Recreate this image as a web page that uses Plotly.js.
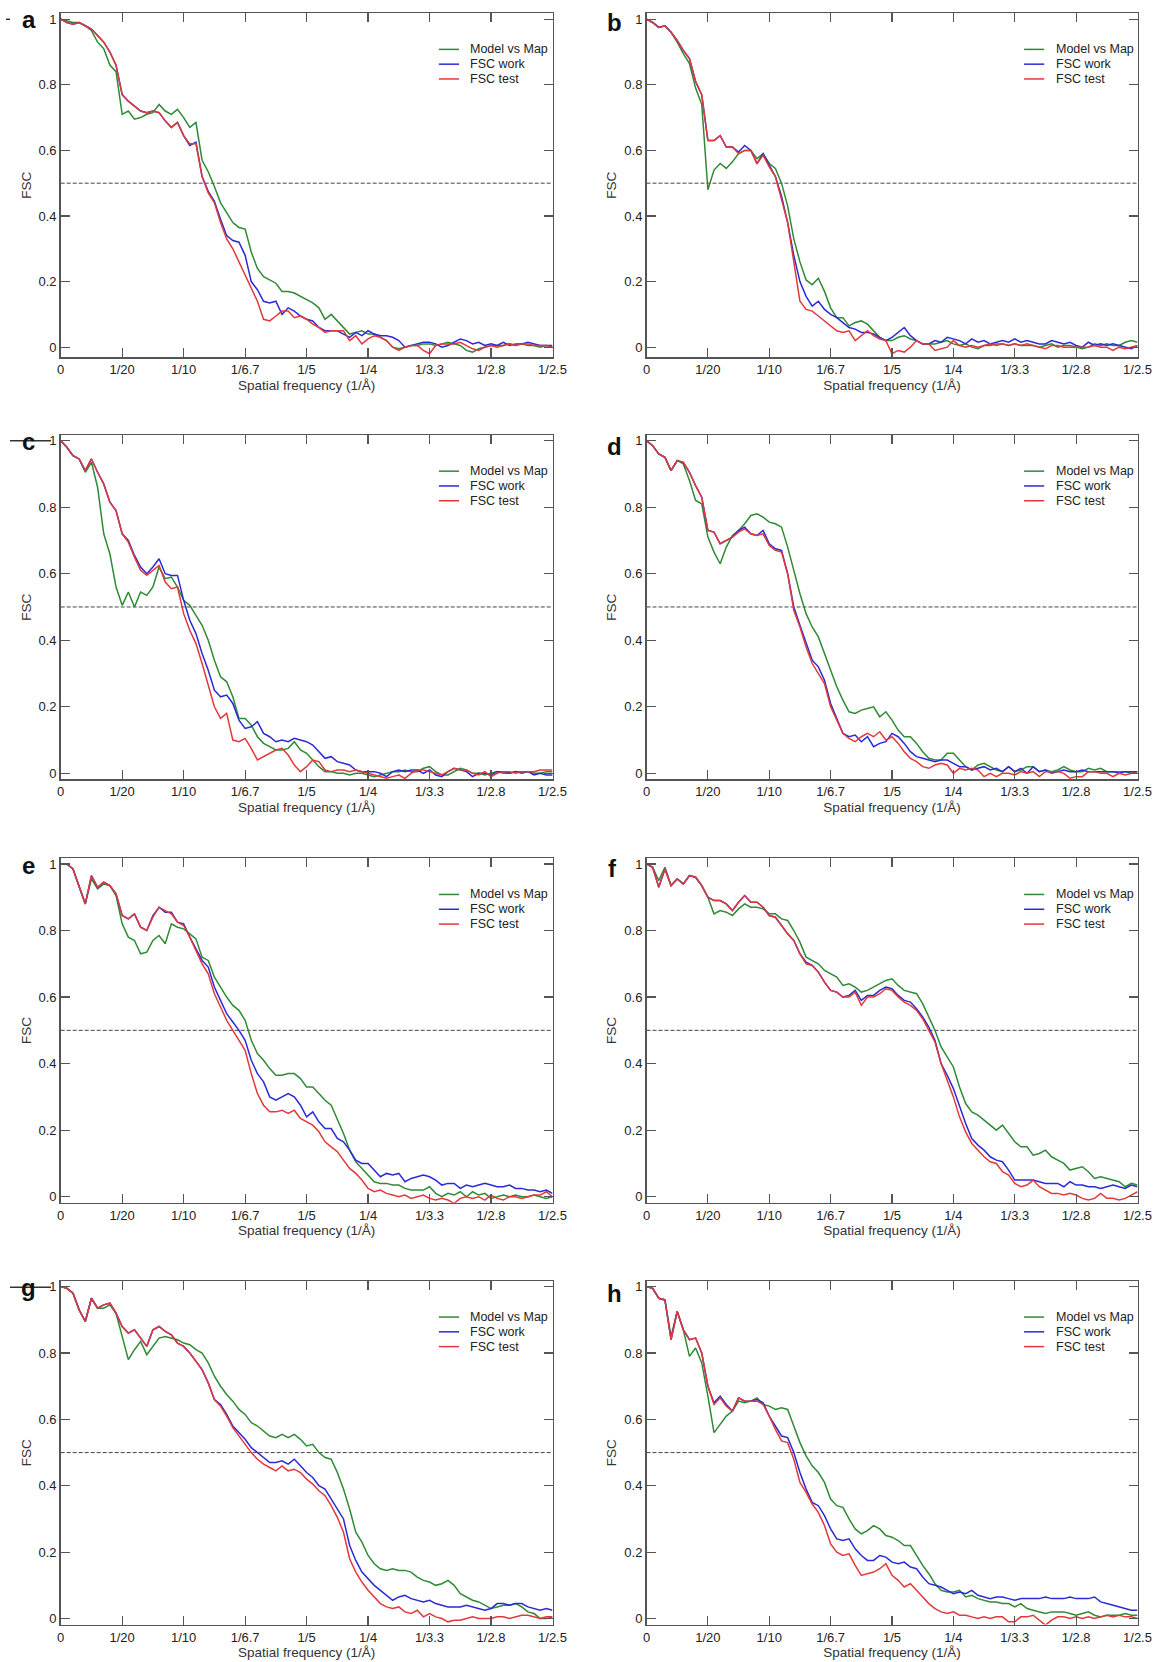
<!DOCTYPE html>
<html>
<head>
<meta charset="utf-8">
<script src="https://cdn.plot.ly/plotly-3.0.1.min.js"></script>
<style>
html,body{margin:0;padding:0;background:#ffffff;}
#chart{width:1158px;height:1662px;}
</style>
</head>
<body>
<div id="chart"></div>
<script>
// ---------- shared axes ----------
const freq = [0,0.005,0.01,0.015,0.02,0.025,0.03,0.035,0.04,0.045,
  0.05,0.055,0.06,0.065,0.07,0.075,0.08,0.085,0.09,0.095,
  0.1,0.105,0.11,0.115,0.12,0.125,0.13,0.135,0.14,0.145,
  0.15,0.155,0.16,0.165,0.17,0.175,0.18,0.185,0.19,0.195,
  0.2,0.205,0.21,0.215,0.22,0.225,0.23,0.235,0.24,0.245,
  0.25,0.255,0.26,0.265,0.27,0.275,0.28,0.285,0.29,0.295,
  0.3,0.305,0.31,0.315,0.32,0.325,0.33,0.335,0.34,0.345,
  0.35,0.355,0.36,0.365,0.37,0.375,0.38,0.385,0.39,0.395,0.4];
const freqTickVals = [0,0.05,0.1,0.15,0.2,0.25,0.3,0.35,0.4];
const freqTickText = ['0','1/20','1/10','1/6.7','1/5','1/4','1/3.3','1/2.8','1/2.5'];
const fscTickVals = [0,0.2,0.4,0.6,0.8,1];
const fscTickText = ['0','0.2','0.4','0.6','0.8','1'];
const seriesNames = ['Model vs Map','FSC work','FSC test'];
const panelLabels = ['a','b','c','d','e','f','g','h'];
const threshold = 0.5;
const xTitle = 'Spatial frequency (1/Å)';
const yTitle = 'FSC';

// ---------- panel a ----------
const aModel = [1.0,0.995,0.99,0.99,0.98,0.965,0.93,0.91,0.86,0.84,
  0.71,0.72,0.695,0.70,0.71,0.715,0.74,0.72,0.71,0.725,
  0.70,0.67,0.685,0.57,0.535,0.49,0.44,0.41,0.38,0.365,
  0.36,0.29,0.24,0.215,0.205,0.195,0.17,0.17,0.165,0.155,
  0.145,0.135,0.12,0.085,0.10,0.08,0.06,0.04,0.045,0.05,
  0.04,0.04,0.03,0.02,0.0,-0.005,0.0,0.005,0.005,0.01,
  0.01,0.005,0.01,0.015,0.01,0.005,-0.01,-0.015,-0.005,0.0,
  0.005,0.005,0.005,0.01,0.005,0.01,0.005,0.005,0.0,0.005,0.0];
const aWork = [1.0,0.99,0.985,0.99,0.98,0.97,0.95,0.93,0.90,0.86,
  0.77,0.75,0.735,0.72,0.715,0.72,0.715,0.69,0.67,0.685,
  0.645,0.615,0.625,0.52,0.475,0.445,0.39,0.34,0.325,0.32,
  0.28,0.20,0.175,0.14,0.135,0.14,0.10,0.12,0.11,0.095,
  0.085,0.08,0.06,0.05,0.05,0.05,0.04,0.03,0.045,0.035,
  0.05,0.04,0.035,0.035,0.03,0.02,0.0,0.005,0.01,0.015,
  0.015,0.01,0.0,0.005,0.015,0.025,0.02,0.01,0.015,0.005,
  0.01,0.005,0.015,0.005,0.01,0.01,0.015,0.01,0.005,0.005,0.005];
const aTest = [1.0,0.99,0.985,0.99,0.98,0.97,0.95,0.93,0.90,0.86,
  0.77,0.75,0.735,0.72,0.715,0.72,0.715,0.69,0.67,0.685,
  0.645,0.62,0.62,0.52,0.47,0.44,0.38,0.33,0.30,0.26,
  0.22,0.18,0.14,0.085,0.08,0.095,0.11,0.11,0.09,0.095,
  0.085,0.07,0.06,0.045,0.05,0.05,0.05,0.02,0.035,0.01,
  0.025,0.035,0.03,0.02,0.0,-0.01,0.0,0.005,0.005,-0.01,
  -0.02,0.005,0.01,0.01,0.01,0.015,0.005,-0.005,-0.01,0.0,
  0.005,0.0,0.005,0.01,0.005,0.01,0.01,0.005,0.005,0.005,0.0];

// ---------- panel b ----------
const bModel = [1.0,0.99,0.975,0.98,0.96,0.93,0.895,0.865,0.79,0.74,
  0.48,0.54,0.56,0.545,0.565,0.59,0.60,0.60,0.575,0.59,
  0.56,0.545,0.50,0.43,0.33,0.26,0.205,0.19,0.21,0.17,
  0.12,0.09,0.09,0.065,0.075,0.08,0.07,0.05,0.03,0.02,
  0.02,0.03,0.035,0.025,0.02,0.01,0.01,0.01,0.015,0.02,
  0.01,0.005,0.01,0.0,-0.005,0.005,0.005,0.01,0.01,0.005,
  0.01,0.005,0.005,0.005,0.0,0.005,0.01,0.0,0.005,0.005,
  0.0,-0.005,0.0,0.01,0.005,0.01,0.005,0.005,0.015,0.02,0.015];
const bWork = [1.0,0.99,0.975,0.98,0.96,0.935,0.905,0.88,0.81,0.77,
  0.63,0.63,0.645,0.61,0.61,0.595,0.615,0.60,0.56,0.59,
  0.555,0.52,0.46,0.38,0.28,0.20,0.155,0.125,0.14,0.115,
  0.10,0.09,0.075,0.06,0.055,0.045,0.045,0.04,0.03,0.02,
  0.03,0.045,0.06,0.035,0.02,0.01,0.01,0.02,0.015,0.03,
  0.025,0.02,0.01,0.025,0.015,0.02,0.01,0.015,0.02,0.015,
  0.025,0.015,0.02,0.015,0.01,0.01,0.02,0.015,0.01,0.015,
  0.005,0.0,0.015,0.005,0.01,0.005,0.01,0.005,0.0,-0.005,0.005];
const bTest = [1.0,0.99,0.975,0.98,0.96,0.935,0.905,0.88,0.81,0.77,
  0.63,0.63,0.645,0.61,0.61,0.59,0.60,0.60,0.56,0.585,
  0.55,0.52,0.45,0.38,0.26,0.14,0.115,0.11,0.095,0.08,
  0.065,0.05,0.045,0.05,0.02,0.035,0.05,0.035,0.025,0.02,
  -0.02,-0.01,-0.015,0.0,0.02,0.01,0.01,-0.01,-0.005,0.0,
  0.02,0.005,0.0,0.005,0.0,0.005,0.01,0.005,0.01,0.005,
  0.01,0.005,0.01,0.005,0.0,-0.005,0.005,0.005,0.0,0.0,
  0.0,0.0,0.0,0.005,0.0,0.0,-0.01,0.0,-0.005,0.0,0.005];

// ---------- panel c ----------
const cModel = [1.0,0.98,0.955,0.945,0.905,0.935,0.86,0.72,0.66,0.56,
  0.505,0.545,0.50,0.545,0.535,0.56,0.62,0.585,0.59,0.56,
  0.52,0.505,0.475,0.445,0.40,0.34,0.29,0.275,0.23,0.165,
  0.165,0.145,0.11,0.09,0.08,0.07,0.07,0.075,0.095,0.07,
  0.06,0.04,0.02,0.005,0.005,0.0,0.0,-0.005,0.0,0.0,
  -0.005,-0.01,-0.005,0.0,0.005,0.005,0.01,0.005,0.005,0.015,
  0.02,0.005,-0.005,-0.005,0.005,0.015,0.01,0.0,0.0,-0.005,
  0.0,0.005,0.0,0.0,0.005,0.005,0.005,0.0,0.0,0.005,0.005];
const cWork = [1.0,0.98,0.955,0.945,0.91,0.945,0.905,0.87,0.815,0.79,
  0.72,0.70,0.655,0.62,0.60,0.62,0.645,0.60,0.595,0.595,
  0.52,0.46,0.42,0.36,0.31,0.25,0.23,0.235,0.21,0.16,
  0.135,0.14,0.155,0.12,0.11,0.095,0.10,0.095,0.105,0.10,
  0.095,0.085,0.065,0.045,0.05,0.035,0.03,0.025,0.01,0.005,
  0.005,0.005,0.0,-0.01,0.005,0.01,0.005,0.01,0.01,0.0,
  0.01,-0.005,-0.01,0.005,0.015,0.01,0.005,-0.01,0.0,0.0,
  -0.005,0.005,0.005,0.0,0.005,0.0,0.005,-0.005,0.0,-0.005,-0.005];
const cTest = [1.0,0.98,0.955,0.945,0.91,0.945,0.905,0.87,0.815,0.79,
  0.72,0.695,0.65,0.61,0.595,0.61,0.625,0.575,0.555,0.56,
  0.48,0.43,0.39,0.33,0.265,0.20,0.165,0.18,0.10,0.095,
  0.105,0.075,0.04,0.05,0.06,0.07,0.075,0.055,0.025,0.005,
  0.02,0.04,0.035,0.01,0.005,0.01,0.01,0.005,0.01,0.005,
  0.0,-0.005,-0.01,-0.015,-0.01,-0.005,-0.015,0.0,0.01,0.01,
  0.005,0.0,-0.005,0.005,0.015,0.01,0.01,0.0,-0.005,0.005,
  -0.01,0.0,0.005,0.005,0.0,0.005,0.005,0.005,0.01,0.01,0.01];

// ---------- panel d ----------
const dModel = [1.0,0.985,0.96,0.95,0.91,0.94,0.93,0.88,0.82,0.81,
  0.71,0.665,0.63,0.68,0.715,0.73,0.75,0.775,0.78,0.77,
  0.755,0.75,0.74,0.68,0.61,0.54,0.48,0.44,0.41,0.36,
  0.31,0.26,0.22,0.185,0.18,0.19,0.195,0.20,0.17,0.185,
  0.16,0.13,0.11,0.11,0.09,0.065,0.045,0.04,0.04,0.06,
  0.06,0.04,0.02,0.01,0.025,0.03,0.02,0.01,0.005,0.02,
  0.005,0.01,0.02,0.02,0.005,0.01,0.005,0.01,0.02,0.01,
  0.005,0.005,0.015,0.01,0.015,0.005,0.005,0.005,0.005,0.0,0.005];
const dWork = [1.0,0.985,0.96,0.95,0.91,0.94,0.935,0.905,0.865,0.83,
  0.73,0.725,0.69,0.70,0.71,0.73,0.74,0.72,0.715,0.73,
  0.69,0.675,0.67,0.60,0.50,0.445,0.39,0.34,0.32,0.28,
  0.21,0.165,0.12,0.11,0.115,0.095,0.11,0.08,0.09,0.095,
  0.12,0.11,0.09,0.065,0.05,0.045,0.04,0.035,0.04,0.04,
  0.03,0.02,0.02,0.01,0.015,0.02,0.01,0.015,0.005,0.02,
  0.005,0.015,0.0,0.02,0.005,0.01,0.0,0.005,0.01,0.005,
  0.005,0.01,0.005,0.005,0.005,0.005,0.005,0.0,0.005,0.005,0.005];
const dTest = [1.0,0.985,0.96,0.95,0.91,0.94,0.935,0.905,0.865,0.83,
  0.73,0.725,0.69,0.70,0.71,0.725,0.735,0.72,0.715,0.72,
  0.685,0.67,0.665,0.60,0.49,0.44,0.38,0.33,0.30,0.27,
  0.20,0.16,0.12,0.105,0.095,0.11,0.12,0.11,0.125,0.10,
  0.11,0.09,0.065,0.045,0.035,0.02,0.015,0.025,0.03,0.025,
  0.0,0.015,0.01,0.015,0.01,-0.01,0.0,-0.01,0.0,0.0,
  -0.005,0.005,0.0,0.005,-0.01,0.005,0.005,0.005,0.0,-0.015,
  -0.01,-0.01,0.005,0.005,0.0,0.0,-0.01,0.0,-0.005,0.0,0.0];

// ---------- panel e ----------
const eModel = [1.0,1.0,0.985,0.93,0.88,0.955,0.925,0.94,0.935,0.905,
  0.82,0.78,0.77,0.73,0.735,0.77,0.785,0.76,0.82,0.81,
  0.805,0.79,0.775,0.72,0.71,0.66,0.63,0.60,0.575,0.56,
  0.53,0.47,0.43,0.41,0.385,0.365,0.365,0.37,0.37,0.355,
  0.33,0.33,0.31,0.29,0.275,0.235,0.19,0.14,0.105,0.085,
  0.065,0.045,0.04,0.04,0.035,0.035,0.025,0.02,0.02,0.02,
  0.03,0.01,0.0,0.01,0.005,0.015,0.0,0.015,0.005,0.01,
  -0.005,0.0,0.005,0.0,0.005,0.0,0.0,0.005,0.0,-0.005,0.0];
const eWork = [1.0,1.0,0.985,0.93,0.88,0.965,0.93,0.945,0.935,0.91,
  0.845,0.835,0.85,0.81,0.80,0.845,0.87,0.855,0.855,0.825,
  0.82,0.78,0.745,0.71,0.69,0.63,0.59,0.55,0.525,0.50,
  0.47,0.41,0.37,0.345,0.30,0.29,0.30,0.31,0.30,0.275,
  0.24,0.255,0.225,0.205,0.205,0.175,0.165,0.14,0.11,0.10,
  0.10,0.08,0.06,0.07,0.065,0.07,0.045,0.055,0.06,0.065,
  0.06,0.05,0.035,0.04,0.04,0.025,0.035,0.03,0.035,0.04,
  0.035,0.03,0.03,0.035,0.025,0.025,0.02,0.02,0.015,0.02,0.01];
const eTest = [1.0,1.0,0.985,0.93,0.88,0.965,0.93,0.945,0.935,0.91,
  0.845,0.835,0.85,0.81,0.80,0.84,0.87,0.86,0.85,0.825,
  0.815,0.78,0.74,0.70,0.67,0.61,0.57,0.53,0.50,0.47,
  0.44,0.37,0.31,0.275,0.255,0.255,0.26,0.25,0.26,0.235,
  0.225,0.215,0.195,0.165,0.15,0.135,0.11,0.085,0.07,0.05,
  0.025,0.015,0.02,0.01,0.005,0.0,0.005,-0.005,0.0,0.005,
  -0.005,-0.01,-0.005,-0.01,-0.02,-0.005,0.0,-0.005,0.0,-0.01,
  0.005,-0.005,-0.01,0.0,0.0,-0.005,0.0,0.005,0.005,0.015,0.0];

// ---------- panel f ----------
const fModel = [1.0,0.99,0.95,0.99,0.935,0.955,0.94,0.965,0.96,0.935,
  0.90,0.85,0.86,0.855,0.845,0.865,0.88,0.87,0.87,0.865,
  0.85,0.85,0.835,0.83,0.80,0.765,0.72,0.71,0.70,0.68,
  0.67,0.66,0.635,0.64,0.63,0.615,0.62,0.63,0.64,0.65,
  0.655,0.635,0.62,0.615,0.61,0.58,0.54,0.50,0.45,0.42,
  0.39,0.33,0.28,0.255,0.245,0.23,0.215,0.20,0.215,0.19,
  0.165,0.15,0.15,0.125,0.13,0.14,0.12,0.11,0.10,0.08,
  0.085,0.09,0.075,0.055,0.06,0.055,0.05,0.045,0.03,0.04,0.035];
const fWork = [1.0,0.99,0.93,0.985,0.935,0.955,0.94,0.965,0.96,0.935,
  0.90,0.89,0.89,0.88,0.86,0.885,0.905,0.885,0.885,0.87,
  0.845,0.84,0.815,0.79,0.77,0.73,0.705,0.695,0.675,0.645,
  0.62,0.615,0.60,0.605,0.62,0.59,0.605,0.605,0.62,0.63,
  0.625,0.605,0.59,0.585,0.565,0.54,0.51,0.47,0.40,0.365,
  0.325,0.27,0.22,0.175,0.155,0.14,0.12,0.11,0.105,0.08,
  0.05,0.05,0.05,0.05,0.045,0.04,0.04,0.04,0.03,0.045,
  0.035,0.035,0.03,0.03,0.025,0.03,0.035,0.03,0.025,0.035,0.03];
const fTest = [1.0,0.99,0.93,0.985,0.935,0.955,0.94,0.965,0.96,0.935,
  0.90,0.89,0.89,0.88,0.86,0.885,0.905,0.885,0.885,0.87,
  0.845,0.84,0.815,0.79,0.77,0.73,0.70,0.695,0.675,0.645,
  0.62,0.615,0.60,0.60,0.615,0.575,0.60,0.60,0.61,0.625,
  0.62,0.60,0.585,0.575,0.56,0.535,0.50,0.465,0.40,0.35,
  0.30,0.24,0.195,0.16,0.14,0.12,0.105,0.10,0.075,0.065,
  0.04,0.03,0.035,0.05,0.03,0.02,0.01,0.01,0.005,0.01,
  0.005,-0.005,-0.01,-0.005,0.01,-0.005,-0.005,-0.01,-0.005,0.005,0.015];

// ---------- panel g ----------
const gModel = [1.0,0.995,0.98,0.93,0.895,0.965,0.935,0.935,0.945,0.92,
  0.85,0.78,0.81,0.835,0.795,0.82,0.845,0.85,0.845,0.84,
  0.83,0.825,0.81,0.80,0.77,0.73,0.70,0.675,0.655,0.63,
  0.615,0.59,0.58,0.565,0.55,0.545,0.555,0.545,0.555,0.54,
  0.52,0.525,0.50,0.485,0.48,0.44,0.39,0.33,0.26,0.23,
  0.19,0.165,0.15,0.145,0.15,0.145,0.145,0.14,0.125,0.115,
  0.11,0.10,0.105,0.115,0.10,0.075,0.065,0.055,0.05,0.04,
  0.03,0.035,0.04,0.04,0.045,0.035,0.02,0.015,0.0,0.0,0.005];
const gWork = [1.0,0.995,0.98,0.93,0.895,0.965,0.935,0.945,0.95,0.92,
  0.88,0.86,0.87,0.845,0.82,0.87,0.88,0.865,0.855,0.83,
  0.82,0.80,0.775,0.75,0.71,0.66,0.645,0.615,0.58,0.56,
  0.54,0.515,0.50,0.485,0.47,0.47,0.475,0.465,0.48,0.46,
  0.44,0.425,0.40,0.39,0.36,0.33,0.30,0.22,0.175,0.14,
  0.12,0.10,0.085,0.07,0.055,0.065,0.07,0.06,0.055,0.05,
  0.055,0.045,0.04,0.035,0.035,0.035,0.04,0.035,0.03,0.025,
  0.03,0.045,0.045,0.04,0.045,0.045,0.035,0.03,0.025,0.03,0.025];
const gTest = [1.0,0.995,0.98,0.93,0.895,0.965,0.935,0.945,0.95,0.92,
  0.88,0.86,0.87,0.845,0.82,0.87,0.88,0.865,0.855,0.83,
  0.82,0.80,0.775,0.75,0.71,0.66,0.64,0.61,0.575,0.55,
  0.525,0.50,0.48,0.465,0.455,0.445,0.46,0.445,0.45,0.44,
  0.42,0.405,0.385,0.37,0.34,0.305,0.26,0.18,0.14,0.11,
  0.085,0.065,0.045,0.035,0.03,0.035,0.02,0.015,0.025,0.005,
  0.015,0.005,0.0,-0.01,-0.005,-0.005,0.0,0.005,0.0,0.0,
  0.0,0.005,0.005,0.0,0.005,0.01,0.01,0.005,0.0,0.005,0.005];

// ---------- panel h ----------
const hModel = [1.0,0.995,0.965,0.96,0.85,0.925,0.87,0.79,0.815,0.77,
  0.67,0.56,0.585,0.61,0.625,0.655,0.65,0.655,0.665,0.645,
  0.64,0.63,0.635,0.63,0.58,0.53,0.49,0.46,0.44,0.41,
  0.36,0.34,0.335,0.30,0.27,0.255,0.265,0.28,0.27,0.25,
  0.245,0.235,0.22,0.22,0.19,0.16,0.135,0.105,0.085,0.08,
  0.08,0.085,0.065,0.07,0.06,0.055,0.05,0.05,0.045,0.045,
  0.035,0.045,0.03,0.025,0.02,0.015,0.02,0.02,0.02,0.015,
  0.01,0.015,0.02,0.01,0.005,0.01,0.01,0.01,0.015,0.01,0.01];
const hWork = [1.0,0.995,0.965,0.96,0.84,0.925,0.87,0.84,0.845,0.80,
  0.70,0.65,0.67,0.645,0.625,0.665,0.655,0.655,0.66,0.65,
  0.61,0.58,0.55,0.545,0.50,0.44,0.39,0.35,0.34,0.31,
  0.27,0.24,0.235,0.24,0.21,0.19,0.175,0.175,0.19,0.185,
  0.17,0.165,0.17,0.155,0.15,0.125,0.105,0.10,0.095,0.085,
  0.075,0.08,0.075,0.085,0.07,0.065,0.06,0.065,0.065,0.06,
  0.055,0.06,0.06,0.06,0.06,0.065,0.06,0.06,0.06,0.065,
  0.06,0.06,0.06,0.065,0.05,0.045,0.04,0.035,0.03,0.025,0.025];
const hTest = [1.0,0.995,0.965,0.96,0.84,0.925,0.87,0.84,0.845,0.80,
  0.70,0.645,0.665,0.64,0.625,0.665,0.655,0.655,0.655,0.645,
  0.61,0.57,0.535,0.53,0.48,0.41,0.38,0.345,0.32,0.28,
  0.225,0.20,0.19,0.195,0.16,0.13,0.135,0.14,0.15,0.165,
  0.13,0.115,0.095,0.105,0.085,0.065,0.045,0.03,0.02,0.015,
  0.02,0.01,0.01,0.005,0.0,0.005,0.0,0.005,0.005,-0.01,
  -0.01,0.005,0.005,0.01,-0.005,-0.02,-0.005,0.005,0.005,0.0,
  0.005,0.0,0.005,0.0,0.005,0.01,0.005,0.01,0.005,0.005,0.0];

// ---------- build ----------
const panels = [
  {model:aModel, work:aWork, test:aTest},
  {model:bModel, work:bWork, test:bTest},
  {model:cModel, work:cWork, test:cTest},
  {model:dModel, work:dWork, test:dTest},
  {model:eModel, work:eWork, test:eTest},
  {model:fModel, work:fWork, test:fTest},
  {model:gModel, work:gWork, test:gTest},
  {model:hModel, work:hWork, test:hTest}
];
const W = 1158, H = 1662;
const colors = ['#2f8a34', '#2a2ad6', '#e3383a'];
const fontFam = 'Liberation Sans, Arial, Helvetica, sans-serif';
const colPx = [[60.7, 552.5], [646.5, 1137.5]];
const rowPx = [[13.3, 357], [435, 779.3], [858.3, 1202.7], [1281, 1624.5]];
const yRanges = [[-0.03,1.018],[-0.03,1.018],[-0.018,1.017],[-0.018,1.017],
                 [-0.018,1.017],[-0.018,1.017],[-0.018,1.017],[-0.018,1.017]];
const letterPx = [[29,19.5],[614,22],[28.5,441.5],[614,446],[28,865],[612.5,868],[28.5,1287],[614,1293]];

const traces = [];
const shapes = [];
const annotations = [];
const layout = {
  width: W, height: H,
  margin: {l:0, r:0, t:0, b:0},
  paper_bgcolor: '#ffffff', plot_bgcolor: '#ffffff',
  font: {family: fontFam, color: '#222'},
  showlegend: false
};

panels.forEach((p, k) => {
  const n = k + 1;
  const sfx = n === 1 ? '' : String(n);
  const col = k % 2, row = Math.floor(k / 2);
  const xd = [colPx[col][0] / W, colPx[col][1] / W];
  const yd = [1 - rowPx[row][1] / H, 1 - rowPx[row][0] / H];
  layout['xaxis' + sfx] = {
    domain: xd, anchor: 'y' + sfx, range: [0, 0.4],
    tickmode: 'array', tickvals: freqTickVals, ticktext: freqTickText,
    ticks: 'inside', ticklen: 9, tickwidth: 1.2, tickcolor: '#555',
    showline: true, linecolor: '#555', linewidth: 1.5, mirror: 'ticks',
    showgrid: false, zeroline: false,
    tickfont: {size: 13, color: '#222', family: fontFam},
    title: {text: xTitle, font: {size: 13.5, color: '#333', family: fontFam}, standoff: 4},
    fixedrange: true
  };
  layout['yaxis' + sfx] = {
    domain: yd, anchor: 'x' + sfx, range: yRanges[k],
    tickmode: 'array', tickvals: fscTickVals, ticktext: fscTickText,
    ticks: 'inside', ticklen: 9, tickwidth: 1.2, tickcolor: '#555',
    showline: true, linecolor: '#555', linewidth: 1.5, mirror: 'ticks',
    showgrid: false, zeroline: false,
    tickfont: {size: 13, color: '#222', family: fontFam},
    title: {text: yTitle, font: {size: 13.5, color: '#333', family: fontFam}, standoff: 4},
    fixedrange: true
  };
  const series = [p.model, p.work, p.test];
  series.forEach((vals, j) => {
    traces.push({
      type: 'scatter', mode: 'lines', x: freq, y: vals,
      xaxis: 'x' + sfx, yaxis: 'y' + sfx,
      name: seriesNames[j], showlegend: false,
      line: {color: colors[j], width: 1.5},
      hoverinfo: 'skip'
    });
  });
  // FSC = 0.5 threshold
  shapes.push({
    type: 'line', xref: 'x' + sfx + ' domain', yref: 'y' + sfx,
    x0: 0, x1: 1, y0: threshold, y1: threshold,
    line: {color: '#444', width: 1, dash: '4px,2px'}, layer: 'below'
  });
  // legend
  const legY = [0.895, 0.852, 0.809];
  seriesNames.forEach((nm, j) => {
    shapes.push({
      type: 'line', xref: 'x' + sfx + ' domain', yref: 'y' + sfx + ' domain',
      x0: 0.769, x1: 0.81, y0: legY[j], y1: legY[j],
      line: {color: colors[j], width: 1.5}
    });
    annotations.push({
      xref: 'x' + sfx + ' domain', yref: 'y' + sfx + ' domain',
      x: 0.829, y: legY[j], xanchor: 'left', yanchor: 'middle',
      text: nm, showarrow: false,
      font: {size: 12.5, color: '#222', family: fontFam}
    });
  });
  // panel letter
  annotations.push({
    xref: 'paper', yref: 'paper',
    x: letterPx[k][0] / W, y: 1 - letterPx[k][1] / H,
    xanchor: 'center', yanchor: 'middle',
    text: '<b>' + panelLabels[k] + '</b>', showarrow: false,
    font: {size: 24, color: '#111', family: fontFam}
  });
});

// stray marks beside letters a, c, g in the source figure
[[6, 10, 19.3], [10, 51, 440.7], [10, 51, 1287.3]].forEach(s => {
  shapes.push({
    type: 'line', xref: 'paper', yref: 'paper',
    x0: s[0] / W, x1: s[1] / W, y0: 1 - s[2] / H, y1: 1 - s[2] / H,
    line: {color: '#333', width: 1.5}, layer: 'below'
  });
});

layout.shapes = shapes;
layout.annotations = annotations;

Plotly.newPlot('chart', traces, layout, {staticPlot: true, displayModeBar: false});
</script>
</body>
</html>
